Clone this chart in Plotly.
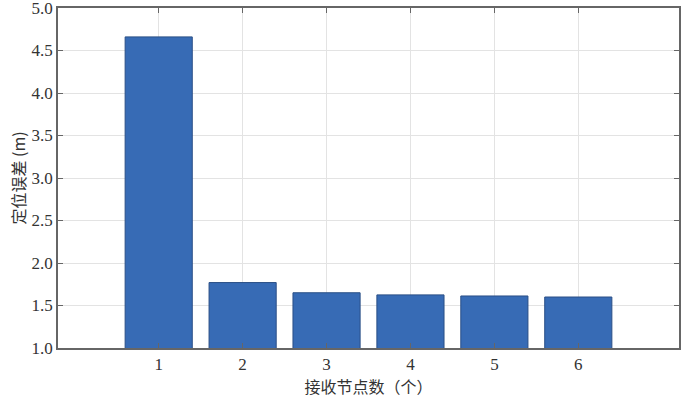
import plotly.graph_objects as go

categories = [1, 2, 3, 4, 5, 6]
errors = [4.66, 1.77, 1.65, 1.625, 1.612, 1.60]
y_ticks = [1.0, 1.5, 2.0, 2.5, 3.0, 3.5, 4.0, 4.5, 5.0]
y_tick_labels = ["1.0", "1.5", "2.0", "2.5", "3.0", "3.5", "4.0", "4.5", "5.0"]

font_family = "Liberation Serif, Times New Roman, serif"
cjk_family = "Noto Sans CJK SC, serif"

fig = go.Figure(go.Bar(
    x=categories, y=errors, base=0, width=0.8,
    marker=dict(color="#376bb5", line=dict(color="#2a4f86", width=1)),
))

fig.update_layout(
    width=692, height=412,
    margin=dict(l=58, r=13, t=8, b=64, autoexpand=False),
    paper_bgcolor="white", plot_bgcolor="white",
    showlegend=False,
    font=dict(family=font_family, size=17, color="#333333"),
    xaxis=dict(
        range=[-0.2, 7.2], tickmode="array", tickvals=categories,
        ticktext=[str(c) for c in categories],
        showgrid=True, gridcolor="#e3e3e3", gridwidth=1,
        showline=True, linecolor="#666666", linewidth=1.5, mirror="ticks",
        ticks="inside", ticklen=5, tickcolor="#666666",
        automargin=False, ticklabeloverflow="allow",
        title=dict(text="接收节点数（个）", font=dict(size=16, family=cjk_family, color="#333333"), standoff=4),
        zeroline=False,
    ),
    yaxis=dict(
        range=[1.0, 5.0], tickmode="array", tickvals=y_ticks, ticktext=y_tick_labels,
        showgrid=True, gridcolor="#e3e3e3", gridwidth=1,
        showline=True, linecolor="#666666", linewidth=1.5, mirror="ticks",
        ticks="inside", ticklen=5, tickcolor="#666666",
        automargin=False, ticklabeloverflow="allow",
        title=dict(text="定位误差 (m)", font=dict(size=16, family=cjk_family, color="#333333"), standoff=2),
        zeroline=False,
    ),
)

fig.write_html("out.html", config={"displayModeBar": False},
               post_script="document.body.style.margin='0';")
